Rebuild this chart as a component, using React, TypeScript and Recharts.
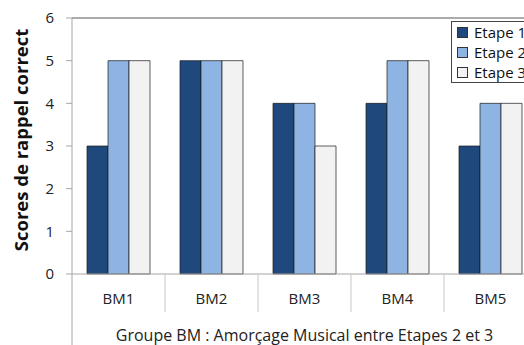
import { BarChart, Bar, XAxis, YAxis, ReferenceLine } from "recharts"

const categories = ["BM1", "BM2", "BM3", "BM4", "BM5"]
const etape1 = [3, 5, 4, 4, 3]
const etape2 = [5, 5, 4, 5, 4]
const etape3 = [5, 5, 3, 5, 4]
const yTicks = [0, 1, 2, 3, 4, 5, 6]

const series = [
  { key: "etape1", name: "Etape 1", color: "#1F497D" },
  { key: "etape2", name: "Etape 2", color: "#8DB4E2" },
  { key: "etape3", name: "Etape 3", color: "#F2F2F2" },
]

const data = categories.map((name, i) => ({
  name,
  etape1: etape1[i],
  etape2: etape2[i],
  etape3: etape3[i],
}))

const font = "'Open Sans', 'Noto Sans', sans-serif"

function CategoryTick(props: any) {
  const { x, y, payload, index } = props
  const half = payload.offset || 46.5
  return (
    <g>
      {index === 0 && (
        <line x1={x - half} y1={y - 8} x2={x - half} y2={y + 80} stroke="#A6A6A6" strokeWidth={1} />
      )}
      <line x1={x + half} y1={y - 8} x2={x + half} y2={y + 30} stroke="#C8C8C8" strokeWidth={1} />
      <text x={x} y={y + 22} textAnchor="middle" fontSize={15} fill="#222" fontFamily={font}>
        {payload.value}
      </text>
    </g>
  )
}

// legend drawn as an overlay so it doesn't shrink the plot
function LegendBox() {
  return (
    <div
      style={{
        position: "absolute",
        left: 451,
        top: 21,
        height: 60,
        border: "1px solid #444",
        background: "#fff",
        padding: "0px 60px 0px 5px",
        fontFamily: font,
        fontSize: 15,
        lineHeight: "20px",
        color: "#111",
        whiteSpace: "nowrap",
      }}
    >
      {series.map((s) => (
        <div key={s.key} style={{ display: "flex", alignItems: "center" }}>
          <span
            style={{
              display: "inline-block",
              width: 9,
              height: 9,
              background: s.color,
              border: "1px solid #333",
              marginRight: 6,
            }}
          />
          {s.name}
        </div>
      ))}
    </div>
  )
}

export default function App() {
  return (
    <div style={{ position: "absolute", left: 0, top: 0, width: 524, height: 345, overflow: "hidden", background: "#fff" }}>
      <BarChart
        width={545}
        height={345}
        data={data}
        margin={{ top: 18, right: 8, bottom: 0, left: 0 }}
        barCategoryGap={15}
        barGap={0}
      >
        <XAxis
          dataKey="name"
          height={71}
          axisLine={{ stroke: "#A6A6A6" }}
          tickLine={false}
          tick={<CategoryTick />}
          interval={0}
          label={{
            value: "Groupe BM : Amorçage Musical entre Etapes 2 et 3",
            position: "insideBottom",
            offset: 4,
            fontSize: 16,
            fill: "#222",
            fontFamily: font,
          }}
        />
        <YAxis
          width={72}
          domain={[0, 6]}
          ticks={yTicks}
          axisLine={{ stroke: "#A6A6A6" }}
          tickLine={{ stroke: "#A6A6A6" }}
          tickSize={6}
          tickMargin={12}
          tick={{ fontSize: 15, fill: "#222", fontFamily: font }}
          label={{
            content: (p: any) => {
              const vb = p.viewBox
              const cy = vb.y + vb.height / 2 - 6
              return (
                <text
                  x={20}
                  y={cy}
                  transform={`rotate(-90 20 ${cy})`}
                  textAnchor="middle"
                  dominantBaseline="central"
                  fontSize={18.5}
                  fontWeight="bold"
                  fill="#111"
                  fontFamily={font}
                >
                  Scores de rappel correct
                </text>
              )
            },
          }}
        />
        <ReferenceLine y={6} stroke="#595959" strokeWidth={1} ifOverflow="extendDomain" />
        {series.map((s) => (
          <Bar
            key={s.key}
            dataKey={s.key}
            name={s.name}
            fill={s.color}
            stroke="#1a1a1a"
            strokeWidth={0.7}
            isAnimationActive={false}
          />
        ))}
      </BarChart>
      <LegendBox />
    </div>
  )
}
